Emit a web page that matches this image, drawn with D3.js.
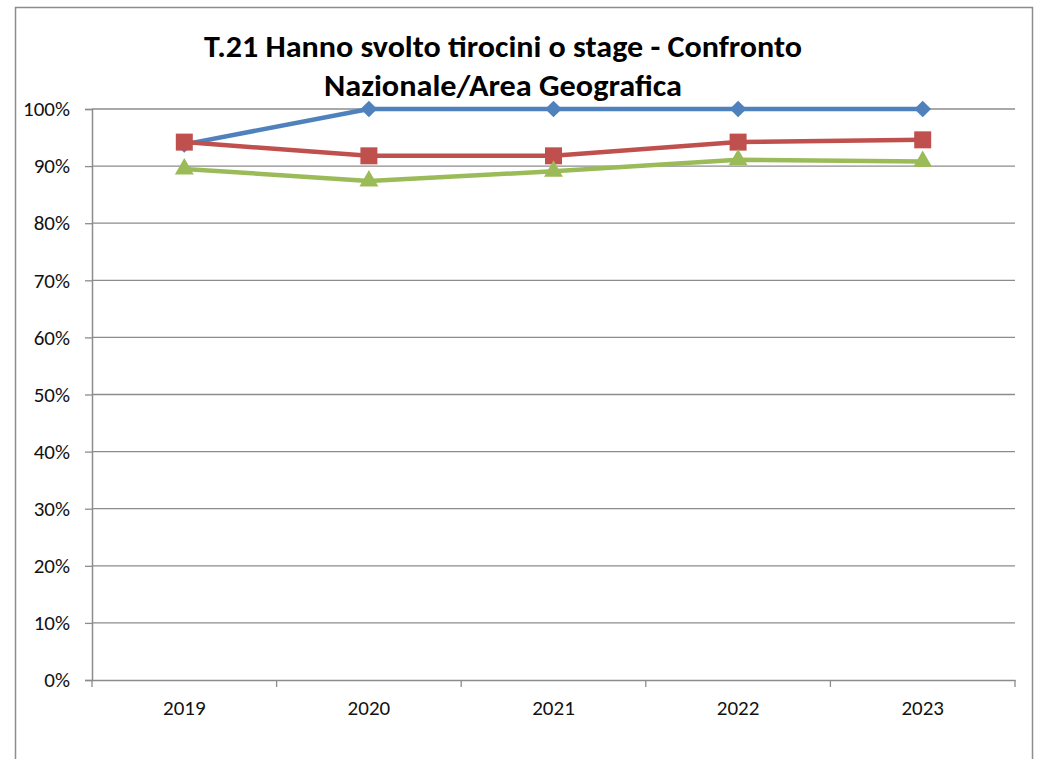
<!DOCTYPE html>
<html><head><meta charset="utf-8">
<script src="https://cdn.jsdelivr.net/npm/d3@7"></script>
<style>body{margin:0;background:#fff}svg{display:block}</style>
</head><body>
<svg id="c" width="1048" height="759"></svg>
<script>
const categories = ["2019","2020","2021","2022","2023"];
const seriesNames = ["Ateneo","Area Geografica","Nazionale"];
const blueValues = [0.938, 1.00, 1.00, 1.00, 1.00];
const redValues = [0.942, 0.918, 0.918, 0.942, 0.946];
const greenValues = [0.895, 0.874, 0.891, 0.911, 0.908];
const yTicks = [0,0.1,0.2,0.3,0.4,0.5,0.6,0.7,0.8,0.9,1.0];
const titleLines = ["T.21 Hanno svolto tirocini o stage - Confronto","Nazionale/Area Geografica"];

const svg = d3.select("#c");
const font = "Calibri, Carlito, 'Open Sans', 'Liberation Sans', sans-serif";
svg.append("rect").attr("x",15.5).attr("y",7.5).attr("width",1017).attr("height",770)
  .attr("fill","#fff").attr("stroke","#8c8c8c").attr("stroke-width",1.5);

const L=92,R=1015,T=109,B=680;
const x = d3.scaleBand().domain(categories).range([L,R]);
const y = d3.scaleLinear().domain([0,1]).range([B,T]);

svg.append("g").selectAll("line").data(yTicks.filter(d=>d>0)).join("line")
  .attr("x1",L).attr("x2",R).attr("y1",d=>y(d)).attr("y2",d=>y(d))
  .attr("stroke","#8c8c8c").attr("stroke-width",1.3);

const ya = svg.append("g").attr("transform",`translate(${L},0)`)
  .call(d3.axisLeft(y).tickValues(yTicks).tickFormat(d3.format(".0%")).tickSize(7).tickPadding(15));
ya.select(".domain").attr("stroke","#8c8c8c").attr("stroke-width",1.5);
ya.selectAll(".tick line").attr("stroke","#8c8c8c").attr("stroke-width",1.3);
ya.selectAll("text").attr("font-family",font).attr("font-size",21).attr("font-weight",400).attr("fill","#111");

const xa = svg.append("g").attr("transform",`translate(0,${B})`)
  .call(d3.axisBottom(x).tickSize(0).tickPadding(20));
xa.select(".domain").attr("stroke","#8c8c8c").attr("stroke-width",1.5);
xa.selectAll("text").attr("font-family",font).attr("font-size",21).attr("font-weight",400).attr("fill","#111");
const bounds = categories.map(c=>x(c)).concat([R]);
xa.selectAll("line.sep").data(bounds).join("line").attr("class","sep")
  .attr("x1",d=>d).attr("x2",d=>d).attr("y1",0).attr("y2",7)
  .attr("stroke","#8c8c8c").attr("stroke-width",1.3);

const cx = c => x(c)+x.bandwidth()/2;
const line = d3.line().x((d,i)=>cx(categories[i])).y(d=>y(d));
const series = [
  {vals:blueValues,color:"#4F81BD",sym:d3.symbolSquare,size:140,rot:45},
  {vals:redValues,color:"#C0504D",sym:d3.symbolSquare,size:289,rot:0},
  {vals:greenValues,color:"#9BBB59",sym:d3.symbolTriangle,size:155,rot:0}
];
series.forEach(s=>{
  svg.append("path").datum(s.vals).attr("d",line).attr("fill","none")
    .attr("stroke",s.color).attr("stroke-width",4.5).attr("stroke-linejoin","round");
});
series.forEach(s=>{
  svg.append("g").selectAll("path").data(s.vals).join("path")
    .attr("transform",(d,i)=>`translate(${cx(categories[i])},${y(d)}) rotate(${s.rot})`)
    .attr("d",d3.symbol().type(s.sym).size(s.size)).attr("fill",s.color);
});

const tg = svg.append("g");
titleLines.forEach((t,i)=>{
  const tx = tg.append("text").attr("x",503).attr("y",[57,96][i]).attr("text-anchor","middle")
    .attr("font-family",font).attr("font-weight","bold").attr("font-size",31).text(t);
  tx.attr("textLength",[598,358][i]).attr("lengthAdjust","spacingAndGlyphs");
});
</script>
</body></html>
